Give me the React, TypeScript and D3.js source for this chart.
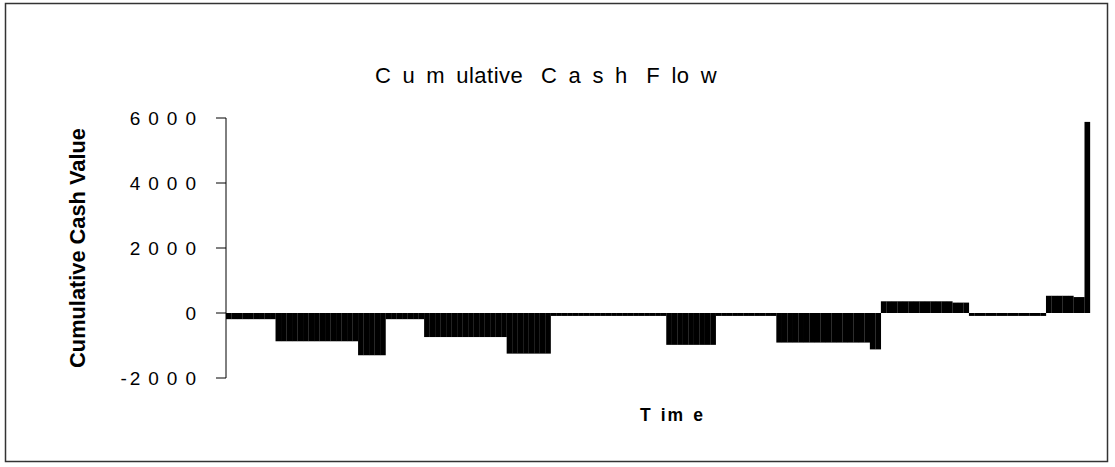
import React from "react";
import * as d3 from "d3";

const values: number[] = [
  -190, -190, -190, -190, -190, -190, -190, -190, -190,
  -870, -870, -870, -870, -870, -870, -870, -870, -870, -870, -870, -870, -870, -870, -870,
  -1300, -1300, -1300, -1300, -1300,
  -190, -190, -190, -190, -190, -190, -190,
  -740, -740, -740, -740, -740, -740, -740, -740, -740, -740, -740, -740, -740, -740, -740,
  -1250, -1250, -1250, -1250, -1250, -1250, -1250, -1250,
  -90, -90, -90, -90, -90, -90, -90, -90, -90, -90, -90, -90, -90, -90, -90, -90, -90, -90, -90, -90, -90,
  -980, -980, -980, -980, -980, -980, -980, -980, -980,
  -90, -90, -90, -90, -90, -90, -90, -90, -90, -90, -90,
  -910, -910, -910, -910, -910, -910, -910, -910, -910, -910, -910, -910, -910, -910, -910, -910, -910,
  -1120, -1120,
  360, 360, 360, 360, 360, 360, 360, 360, 360, 360, 360, 360, 360,
  320, 320, 320,
  -90, -90, -90, -90, -90, -90, -90, -90, -90, -90, -90, -90, -90, -90,
  530, 530, 530, 530, 530,
  490, 490,
  5880,
];
const periods: number[] = values.map((_, i) => i + 1);
const yTicks: number[] = [-2000, 0, 2000, 4000, 6000];
const yTickLabels: string[] = ["-2000", "0", "2000", "4000", "6000"];
const titleText = "Cumulative Cash Flow";
const yTitle = "Cumulative Cash Value";
const xTitle = "Time";

const W = 1115;
const H = 467;
const plotLeft = 226;
const plotRight = 1090;
const plotTop = 118;
const plotBottom = 378;
const font = "Arial, 'Liberation Sans', Helvetica, sans-serif";

export default function App() {
  const x = d3.scaleBand<number>().domain(periods).range([plotLeft, plotRight]).padding(0);
  const y = d3.scaleLinear().domain([-2000, 6000]).range([plotBottom, plotTop]);
  const bw = x.bandwidth();
  const tickLs = 8;
  const S = 11.6;
  const s = 0.5;
  return (
    <svg
      width={W}
      height={H}
      style={{ position: "absolute", left: 0, top: 0, display: "block", background: "#fff" }}
    >
      <rect x={0} y={0} width={W} height={H} fill="#fff" />
      <rect x={5.5} y={3.5} width={1102} height={458} fill="none" stroke="#333" strokeWidth={1.5} />
      {/* title */}
      <text x={375} y={83} fontFamily={font} fontSize={22} fill="#000">
        <tspan letterSpacing={S}>{titleText.slice(0, 3)}</tspan>
        <tspan letterSpacing={s}>{titleText.slice(3, 10)}</tspan>
        <tspan letterSpacing={S}>{titleText.slice(10, 14)}</tspan>
        <tspan letterSpacing={6.5}>{titleText.slice(14, 16)}</tspan>
        <tspan letterSpacing={S}>{titleText.slice(16, 17)}</tspan>
        <tspan letterSpacing={s}>{titleText.slice(17, 18)}</tspan>
        <tspan letterSpacing={S}>{titleText.slice(18, 19)}</tspan>
        <tspan letterSpacing={0}>{titleText.slice(19)}</tspan>
      </text>
      {/* bars */}
      <g>
        {values.map((v, i) => (
          <rect
            key={i}
            x={x(periods[i])!}
            width={bw + 0.15}
            y={Math.min(y(v), y(0))}
            height={Math.abs(y(v) - y(0))}
            fill="#000"
          />
        ))}
      </g>
      {/* y axis */}
      <line x1={plotLeft} x2={plotLeft} y1={y(6000)} y2={y(-2000)} stroke="#000" strokeWidth={1} />
      {yTicks.map((t, i) => {
        const lab = yTickLabels[i];
        const neg = lab.startsWith("-");
        return (
          <g key={t}>
            <line x1={plotLeft - 10} x2={plotLeft} y1={y(t)} y2={y(t)} stroke="#000" strokeWidth={1} />
            <text
              x={196 + tickLs}
              y={y(t) + 7}
              textAnchor="end"
              fontFamily={font}
              fontSize={19}
              fill="#000"
            >
              {neg && <tspan letterSpacing={3}>-</tspan>}
              <tspan letterSpacing={tickLs}>{neg ? lab.slice(1) : lab}</tspan>
            </text>
          </g>
        );
      })}
      {/* y title */}
      <text
        transform={`translate(85,248) rotate(-90)`}
        textAnchor="middle"
        fontFamily={font}
        fontSize={21.8}
        fontWeight="bold"
        fill="#000"
      >
        {yTitle}
      </text>
      {/* x title */}
      <text x={640} y={421} fontFamily={font} fontSize={17.5} fontWeight="bold" fill="#000">
        <tspan letterSpacing={10}>{xTitle.slice(0, 1)}</tspan>
        <tspan letterSpacing={2}>{xTitle.slice(1, 2)}</tspan>
        <tspan letterSpacing={10}>{xTitle.slice(2, 3)}</tspan>
        <tspan>{xTitle.slice(3)}</tspan>
      </text>
    </svg>
  );
}
